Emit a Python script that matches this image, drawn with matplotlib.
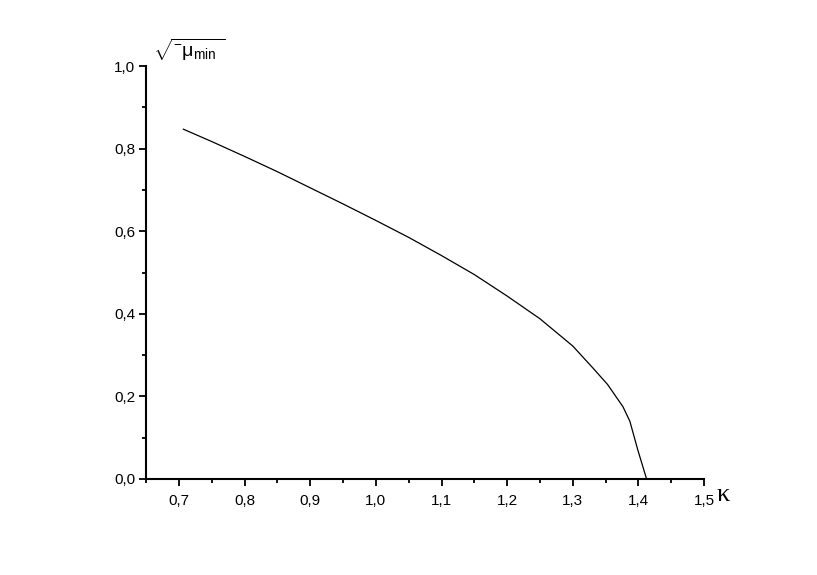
import matplotlib
matplotlib.use("Agg")
import matplotlib.pyplot as plt
from matplotlib.ticker import FixedLocator

kappa = [0.7066, 0.75, 0.80, 0.85, 0.90, 0.95, 1.00, 1.05, 1.10, 1.15,
         1.20, 1.25, 1.30, 1.33, 1.353, 1.3765, 1.387, 1.399, 1.4125]
sqrt_mu = [0.847, 0.817, 0.781, 0.744, 0.705, 0.666, 0.626, 0.585, 0.541, 0.495,
           0.443, 0.388, 0.322, 0.270, 0.229, 0.175, 0.140, 0.071, 0.0]

x_ticks = [0.7, 0.8, 0.9, 1.0, 1.1, 1.2, 1.3, 1.4, 1.5]
x_labels = ["0,7", "0,8", "0,9", "1,0", "1,1", "1,2", "1,3", "1,4", "1,5"]
x_minor = [0.65, 0.75, 0.85, 0.95, 1.05, 1.15, 1.25, 1.35, 1.45]
y_ticks = [0.0, 0.2, 0.4, 0.6, 0.8, 1.0]
y_labels = ["0,0", "0,2", "0,4", "0,6", "0,8", "1,0"]
y_minor = [0.1, 0.3, 0.5, 0.7, 0.9]

plt.rcParams['font.family'] = ['Liberation Sans', 'DejaVu Sans']
plt.rcParams['mathtext.fontset'] = 'custom'
plt.rcParams['mathtext.rm'] = 'Liberation Sans'
plt.rcParams['mathtext.it'] = 'Liberation Sans'

W, H = 817, 575
fig = plt.figure(figsize=(W/100, H/100), dpi=100)
x0, x1, y0, y1 = 146.2, 704.0, 479.0, 66.0
ax = fig.add_axes([x0/W, 1 - y0/H, (x1-x0)/W, (y0-y1)/H])

ax.plot(kappa, sqrt_mu, color='black', linewidth=0.9)

ax.set_xlim(0.65, 1.5)
ax.set_ylim(0.0, 1.0)
ax.spines['top'].set_visible(False)
ax.spines['right'].set_visible(False)
for s in ['left', 'bottom']:
    ax.spines[s].set_linewidth(1.5)

ax.xaxis.set_major_locator(FixedLocator(x_ticks))
ax.set_xticklabels(x_labels)
ax.xaxis.set_minor_locator(FixedLocator(x_minor))
ax.yaxis.set_major_locator(FixedLocator(y_ticks))
ax.set_yticklabels(y_labels)
ax.yaxis.set_minor_locator(FixedLocator(y_minor))

ax.tick_params(which='major', direction='out', length=5, width=1.3, labelsize=11)
ax.tick_params(which='minor', direction='out', length=3, width=1.3)
ax.tick_params(axis='x', which='major', pad=6)
ax.tick_params(axis='y', which='major', pad=3)

ax.text(1.022, -0.038, "κ", transform=ax.transAxes, fontsize=19,
        family=['Liberation Serif', 'DejaVu Serif'], ha='left', va='center')
ax.text(0.012, 1.008, r"$\sqrt{^{-}\mu_{\mathrm{min}}\ }$", transform=ax.transAxes,
        fontsize=14, ha='left', va='bottom')

fig.savefig("out.png", dpi=100)
